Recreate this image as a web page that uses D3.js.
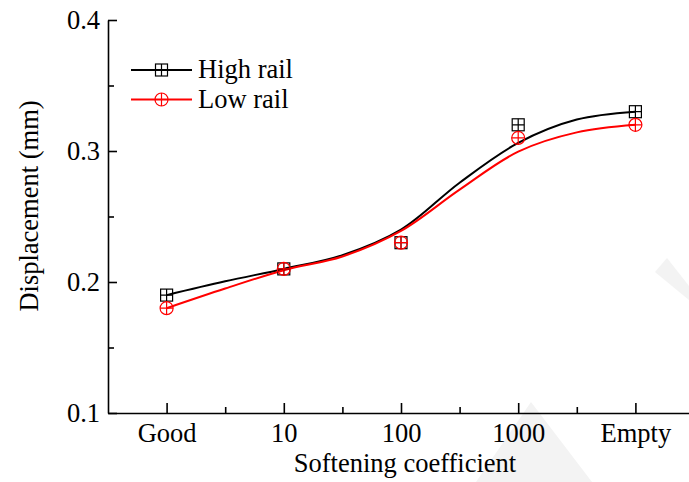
<!DOCTYPE html>
<html>
<head>
<meta charset="utf-8">
<script src="https://cdn.jsdelivr.net/npm/d3@7/dist/d3.min.js"></script>
<style>
  html, body { margin: 0; padding: 0; background: #fff; }
  svg { display: block; }
  text { font-family: "Liberation Serif", "Times New Roman", serif; fill: #000; }
</style>
</head>
<body>
<svg id="chart" width="689" height="482"></svg>
<script>
// Softening coefficient categories (x axis)
const categories = ["Good", "10", "100", "1000", "Empty"];

// Measured displacement (mm) at each category
const highRail = [0.19, 0.21, 0.23, 0.32, 0.33];
const lowRail  = [0.18, 0.21, 0.23, 0.31, 0.32];

// Fitted curves, sampled every half category step
const fitX    = [0, 0.5, 1, 1.5, 2, 2.5, 3, 3.5, 4];
const highFit = [0.190, 0.2005, 0.210, 0.2205, 0.2400, 0.2758, 0.3062, 0.3240, 0.330];
const lowFit  = [0.180, 0.1950, 0.209, 0.2195, 0.2390, 0.2705, 0.2995, 0.3142, 0.320];

// Y axis ticks
const yMajor = [0.1, 0.2, 0.3, 0.4];
const yMinor = [0.15, 0.25, 0.35];
const xMinor = [0.5, 1.5, 2.5, 3.5];

const seriesList = [
  { name: "High rail", values: highRail, fit: highFit, color: "#000000", marker: "square" },
  { name: "Low rail",  values: lowRail,  fit: lowFit,  color: "#ff0000", marker: "circle" }
];

const svg = d3.select("#chart");
const FONT = "26.5px";

const x = d3.scaleLinear().domain([-0.5, 4.5]).range([108, 694]);
const y = d3.scaleLinear().domain([0.1, 0.4]).range([413, 20]);

// faint background mark in the lower right
const wm = svg.append("g").attr("fill", "#f3f3f3");
wm.append("path").attr("d", "M531,402 L592,482 L476,482 Z");
wm.append("path").attr("d", "M667,258 L689,286 L689,300 L655,272 Z");

// axes
const xAxis = d3.axisBottom(x)
  .tickValues(d3.range(categories.length))
  .tickFormat(i => categories[i])
  .tickSizeInner(-10).tickSizeOuter(0).tickPadding(10);
svg.append("g").attr("transform", `translate(0,${y(0.1)})`).call(xAxis);

const xMinorAxis = d3.axisBottom(x).tickValues(xMinor).tickFormat("")
  .tickSizeInner(-6).tickSizeOuter(0);
const gxm = svg.append("g").attr("transform", `translate(0,${y(0.1)})`).call(xMinorAxis);
gxm.select(".domain").remove();

const yAxis = d3.axisLeft(y).tickValues(yMajor).tickFormat(d3.format(".1f"))
  .tickSizeInner(-9).tickSizeOuter(0).tickPadding(8);
svg.append("g").attr("transform", `translate(${x(-0.5)},0)`).call(yAxis);

const yMinorAxis = d3.axisLeft(y).tickValues(yMinor).tickFormat("")
  .tickSizeInner(-6).tickSizeOuter(0);
const gym = svg.append("g").attr("transform", `translate(${x(-0.5)},0)`).call(yMinorAxis);
gym.select(".domain").remove();

svg.selectAll(".domain, .tick line").attr("stroke", "#000").attr("stroke-width", 1.6);
svg.selectAll(".tick text").attr("font-size", FONT).attr("fill", "#000");

// axis titles
svg.append("text")
  .attr("x", 405).attr("y", 472)
  .attr("text-anchor", "middle").attr("font-size", FONT)
  .text("Softening coefficient");
svg.append("text")
  .attr("transform", "translate(38,206) rotate(-90)")
  .attr("text-anchor", "middle").attr("font-size", FONT)
  .text("Displacement (mm)");

// marker drawing
function drawMarker(g, type, cx, cy, color) {
  if (type === "square") {
    const h = 6;
    g.append("rect").attr("x", cx - h).attr("y", cy - h).attr("width", 2 * h).attr("height", 2 * h)
      .attr("fill", "none").attr("stroke", color).attr("stroke-width", 1.2);
    g.append("path").attr("d", `M${cx - h},${cy}H${cx + h}M${cx},${cy - h}V${cy + h}`)
      .attr("stroke", color).attr("stroke-width", 1.2);
  } else {
    const r = 6.5;
    g.append("circle").attr("cx", cx).attr("cy", cy).attr("r", r)
      .attr("fill", "none").attr("stroke", color).attr("stroke-width", 1.2);
    g.append("path").attr("d", `M${cx - r},${cy}H${cx + r}M${cx},${cy - r}V${cy + r}`)
      .attr("stroke", color).attr("stroke-width", 1.2);
  }
}

const line = d3.line()
  .x((d, i) => x(fitX[i]))
  .y(d => y(d))
  .curve(d3.curveCatmullRom.alpha(0.5));

// fitted curves
seriesList.forEach(s => {
  svg.append("path").datum(s.fit)
    .attr("d", line)
    .attr("fill", "none").attr("stroke", s.color).attr("stroke-width", 2);
});

// data markers
seriesList.forEach(s => {
  const g = svg.append("g");
  s.values.forEach((v, i) => drawMarker(g, s.marker, x(i), y(v), s.color));
});

// legend
const legend = svg.append("g");
seriesList.forEach((s, i) => {
  const ly = 70 + i * 29.5;
  legend.append("line").attr("x1", 131).attr("x2", 192).attr("y1", ly).attr("y2", ly)
    .attr("stroke", s.color).attr("stroke-width", 2);
  drawMarker(legend, s.marker, 161.5, ly, s.color);
  legend.append("text").attr("x", 198).attr("y", ly + 8)
    .attr("font-size", FONT).text(s.name);
});
</script>
</body>
</html>
